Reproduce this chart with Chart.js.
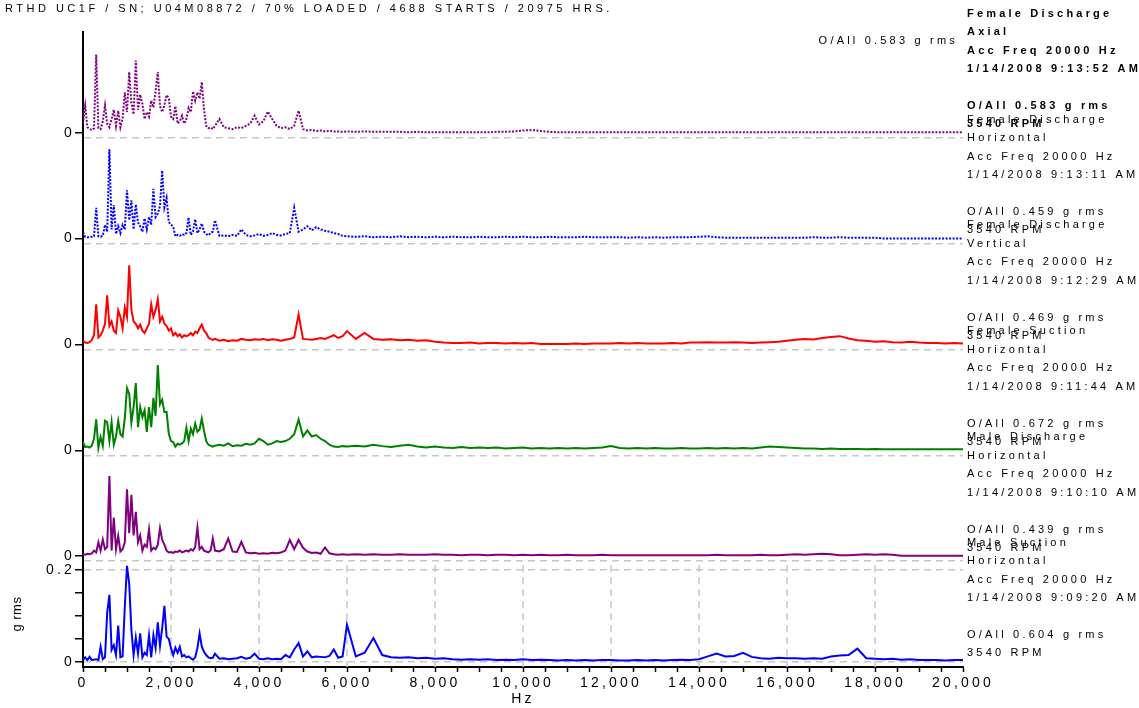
<!DOCTYPE html>
<html>
<head>
<meta charset="utf-8">
<title>RTHD UC1F spectra</title>
<script src="https://cdn.jsdelivr.net/npm/chart.js@4.4.1/dist/chart.umd.min.js"></script>
<style>
  html, body { margin: 0; padding: 0; background: #fff; }
</style>
</head>
<body>
<canvas id="spectra" width="1139" height="708"></canvas>
<script>
// frequency lines (Hz)
var freqHz = [
  0, 50, 100, 150, 200, 250, 300, 350, 400, 450, 500, 550, 600, 650, 700, 750, 800, 850, 900, 950, 1000,
  1050, 1100, 1150, 1200, 1250, 1300, 1350, 1400, 1450, 1500, 1550, 1600, 1650, 1700, 1750, 1800, 1850, 1900, 1950, 2000,
  2050, 2100, 2150, 2200, 2250, 2300, 2350, 2400, 2450, 2500, 2550, 2600, 2650, 2700, 2750, 2800, 2850, 2900, 2950, 3000,
  3100, 3200, 3300, 3400, 3500, 3600, 3700, 3800, 3900, 4000,
  4100, 4200, 4300, 4400, 4500, 4600, 4700, 4800, 4900, 5000,
  5100, 5200, 5300, 5400, 5500, 5600, 5700, 5800, 5900, 6000,
  6200, 6400, 6600, 6800, 7000, 7200, 7400, 7600, 7800, 8000,
  8200, 8400, 8600, 8800, 9000, 9200, 9400, 9600, 9800, 10000,
  10200, 10400, 10600, 10800, 11000, 11200, 11400, 11600, 11800, 12000,
  12200, 12400, 12600, 12800, 13000, 13200, 13400, 13600, 13800, 14000,
  14200, 14400, 14600, 14800, 15000, 15200, 15400, 15600, 15800, 16000,
  16200, 16400, 16600, 16800, 17000, 17200, 17400, 17600, 17800, 18000,
  18200, 18400, 18600, 18800, 19000, 19200, 19400, 19600, 19800, 20000
];

// amplitudes, g rms
var femDischAxial = [
  0.020, 0.058, 0.012, 0.008, 0.006, 0.010, 0.170, 0.010, 0.008, 0.025, 0.059, 0.020, 0.012, 0.030, 0.050, 0.015, 0.048, 0.012, 0.030, 0.088, 0.045,
  0.132, 0.065, 0.040, 0.157, 0.050, 0.083, 0.063, 0.030, 0.045, 0.035, 0.070, 0.055, 0.090, 0.132, 0.058, 0.045, 0.060, 0.082, 0.075, 0.035,
  0.030, 0.058, 0.020, 0.025, 0.037, 0.020, 0.030, 0.054, 0.045, 0.090, 0.070, 0.088, 0.074, 0.110, 0.050, 0.015, 0.010, 0.012, 0.008, 0.015,
  0.030, 0.012, 0.010, 0.008, 0.012, 0.010, 0.015, 0.020, 0.037, 0.018,
  0.025, 0.046, 0.030, 0.015, 0.010, 0.012, 0.008, 0.015, 0.048, 0.008,
  0.005, 0.006, 0.004, 0.005, 0.003, 0.004, 0.003, 0.003, 0.002, 0.003,
  0.002, 0.003, 0.002, 0.002, 0.002, 0.002, 0.001, 0.002, 0.001, 0.001,
  0.001, 0.001, 0.001, 0.001, 0.001, 0.001, 0.002, 0.002, 0.003, 0.005,
  0.006, 0.004, 0.002, 0.001, 0.001, 0.001, 0.001, 0.001, 0.001, 0.001,
  0.001, 0.001, 0.001, 0.001, 0.001, 0.001, 0.001, 0.001, 0.001, 0.001,
  0.001, 0.001, 0.001, 0.001, 0.001, 0.001, 0.001, 0.001, 0.001, 0.001,
  0.001, 0.001, 0.001, 0.001, 0.001, 0.001, 0.001, 0.001, 0.001, 0.001,
  0.001, 0.001, 0.001, 0.001, 0.001, 0.001, 0.001, 0.001, 0.001, 0.001
];
var femDischHoriz = [
  0.014, 0.004, 0.003, 0.003, 0.004, 0.005, 0.067, 0.005, 0.004, 0.006, 0.030, 0.015, 0.194, 0.020, 0.073, 0.010, 0.027, 0.012, 0.030, 0.020, 0.105,
  0.040, 0.083, 0.020, 0.074, 0.035, 0.027, 0.015, 0.044, 0.020, 0.047, 0.030, 0.108, 0.047, 0.054, 0.071, 0.148, 0.068, 0.088, 0.036, 0.030,
  0.026, 0.005, 0.008, 0.006, 0.010, 0.008, 0.012, 0.046, 0.008, 0.015, 0.042, 0.012, 0.020, 0.033, 0.015, 0.010, 0.007, 0.012, 0.015, 0.040,
  0.006, 0.007, 0.005, 0.008, 0.006, 0.020, 0.008, 0.005, 0.007, 0.010,
  0.006, 0.008, 0.012, 0.008, 0.007, 0.010, 0.012, 0.067, 0.015, 0.020,
  0.027, 0.018, 0.025, 0.020, 0.017, 0.015, 0.012, 0.010, 0.006, 0.005,
  0.004, 0.005, 0.003, 0.004, 0.003, 0.005, 0.003, 0.004, 0.003, 0.004,
  0.003, 0.004, 0.003, 0.003, 0.004, 0.003, 0.003, 0.004, 0.003, 0.004,
  0.003, 0.003, 0.004, 0.003, 0.003, 0.003, 0.004, 0.003, 0.003, 0.003,
  0.003, 0.002, 0.003, 0.002, 0.003, 0.002, 0.003, 0.003, 0.003, 0.004,
  0.005, 0.003, 0.002, 0.002, 0.002, 0.002, 0.002, 0.002, 0.002, 0.002,
  0.002, 0.002, 0.003, 0.002, 0.002, 0.003, 0.002, 0.002, 0.002, 0.002,
  0.000, 0.000, 0.000, 0.000, 0.000, 0.000, 0.000, 0.000, 0.000, 0.000
];
var femDischVert = [
  0.008, 0.004, 0.003, 0.005, 0.010, 0.020, 0.087, 0.015, 0.020, 0.030, 0.045, 0.107, 0.040, 0.050, 0.030, 0.025, 0.074, 0.060, 0.035, 0.080, 0.060,
  0.172, 0.075, 0.050, 0.045, 0.035, 0.043, 0.030, 0.025, 0.035, 0.045, 0.087, 0.060, 0.075, 0.098, 0.050, 0.060, 0.045, 0.040, 0.030, 0.035,
  0.020, 0.025, 0.018, 0.022, 0.015, 0.020, 0.018, 0.020, 0.025, 0.020, 0.028, 0.025, 0.035, 0.043, 0.030, 0.025, 0.015, 0.012, 0.010, 0.012,
  0.008, 0.010, 0.007, 0.009, 0.008, 0.012, 0.010, 0.009, 0.011, 0.010,
  0.012, 0.009, 0.011, 0.010, 0.008, 0.010, 0.012, 0.015, 0.065, 0.012,
  0.011, 0.010, 0.012, 0.014, 0.012, 0.016, 0.020, 0.014, 0.018, 0.029,
  0.012, 0.025, 0.012, 0.010, 0.011, 0.009, 0.010, 0.008, 0.009, 0.006,
  0.004, 0.003, 0.003, 0.004, 0.002, 0.003, 0.003, 0.002, 0.003, 0.002,
  0.003, 0.001, 0.001, 0.001, 0.001, 0.002, 0.001, 0.002, 0.002, 0.002,
  0.003, 0.002, 0.003, 0.002, 0.002, 0.002, 0.003, 0.002, 0.004, 0.004,
  0.005, 0.004, 0.004, 0.005, 0.004, 0.003, 0.004, 0.005, 0.006, 0.008,
  0.010, 0.012, 0.011, 0.014, 0.016, 0.018, 0.013, 0.009, 0.008, 0.006,
  0.007, 0.005, 0.004, 0.006, 0.004, 0.003, 0.003, 0.002, 0.003, 0.002
];
var femSuctHoriz = [
  0.018, 0.007, 0.008, 0.006, 0.010, 0.025, 0.067, 0.005, 0.029, 0.010, 0.064, 0.061, 0.020, 0.061, 0.012, 0.030, 0.064, 0.035, 0.030, 0.070, 0.135,
  0.123, 0.060, 0.094, 0.146, 0.050, 0.094, 0.072, 0.087, 0.040, 0.094, 0.050, 0.114, 0.075, 0.185, 0.100, 0.110, 0.083, 0.083, 0.036, 0.020,
  0.018, 0.008, 0.014, 0.012, 0.015, 0.020, 0.049, 0.020, 0.047, 0.035, 0.058, 0.040, 0.045, 0.069, 0.043, 0.020, 0.012, 0.010, 0.008, 0.010,
  0.012, 0.010, 0.015, 0.009, 0.011, 0.010, 0.014, 0.012, 0.015, 0.025,
  0.020, 0.012, 0.015, 0.020, 0.018, 0.020, 0.025, 0.035, 0.067, 0.030,
  0.043, 0.030, 0.033, 0.025, 0.020, 0.012, 0.008, 0.007, 0.009, 0.008,
  0.010, 0.008, 0.012, 0.009, 0.007, 0.010, 0.012, 0.008, 0.006, 0.008,
  0.006, 0.005, 0.007, 0.005, 0.006, 0.005, 0.006, 0.004, 0.005, 0.006,
  0.004, 0.005, 0.004, 0.005, 0.004, 0.005, 0.004, 0.005, 0.006, 0.009,
  0.005, 0.004, 0.005, 0.004, 0.005, 0.004, 0.004, 0.005, 0.004, 0.004,
  0.005, 0.004, 0.005, 0.004, 0.005, 0.004, 0.006, 0.008, 0.007, 0.006,
  0.005, 0.004, 0.004, 0.003, 0.004, 0.003, 0.003, 0.003, 0.002, 0.003,
  0.002, 0.002, 0.002, 0.002, 0.002, 0.002, 0.002, 0.002, 0.002, 0.002
];
var maleDischHoriz = [
  0.004, 0.003, 0.005, 0.004, 0.006, 0.012, 0.008, 0.030, 0.012, 0.036, 0.015, 0.020, 0.174, 0.012, 0.084, 0.015, 0.044, 0.010, 0.015, 0.030, 0.145,
  0.050, 0.133, 0.045, 0.096, 0.030, 0.045, 0.012, 0.025, 0.020, 0.058, 0.012, 0.018, 0.015, 0.025, 0.061, 0.035, 0.025, 0.012, 0.008, 0.009,
  0.007, 0.010, 0.009, 0.012, 0.008, 0.010, 0.012, 0.010, 0.015, 0.012, 0.020, 0.062, 0.015, 0.020, 0.012, 0.010, 0.008, 0.012, 0.038, 0.012,
  0.010, 0.015, 0.038, 0.010, 0.009, 0.031, 0.008, 0.006, 0.007, 0.005,
  0.006, 0.005, 0.007, 0.006, 0.008, 0.012, 0.035, 0.015, 0.035, 0.018,
  0.010, 0.007, 0.008, 0.005, 0.019, 0.006, 0.004, 0.003, 0.004, 0.003,
  0.004, 0.003, 0.004, 0.003, 0.003, 0.004, 0.003, 0.003, 0.003, 0.004,
  0.003, 0.003, 0.002, 0.003, 0.003, 0.002, 0.003, 0.003, 0.002, 0.003,
  0.002, 0.003, 0.002, 0.002, 0.003, 0.002, 0.002, 0.002, 0.003, 0.002,
  0.002, 0.002, 0.002, 0.002, 0.002, 0.002, 0.002, 0.002, 0.002, 0.002,
  0.002, 0.003, 0.002, 0.002, 0.002, 0.002, 0.003, 0.002, 0.002, 0.003,
  0.004, 0.003, 0.004, 0.005, 0.004, 0.002, 0.002, 0.003, 0.004, 0.003,
  0.004, 0.003, 0.001, 0.001, 0.001, 0.001, 0.001, 0.001, 0.001, 0.001
];
var maleSuctHoriz = [
  0.004, 0.010, 0.004, 0.011, 0.004, 0.005, 0.006, 0.004, 0.033, 0.006, 0.010, 0.107, 0.146, 0.026, 0.036, 0.015, 0.079, 0.010, 0.012, 0.120, 0.209,
  0.170, 0.069, 0.015, 0.053, 0.018, 0.062, 0.010, 0.020, 0.015, 0.058, 0.010, 0.058, 0.030, 0.086, 0.035, 0.074, 0.122, 0.055, 0.050, 0.030,
  0.015, 0.031, 0.020, 0.033, 0.012, 0.015, 0.010, 0.012, 0.008, 0.005, 0.010, 0.030, 0.062, 0.033, 0.022, 0.015, 0.010, 0.008, 0.009, 0.018,
  0.007, 0.008, 0.006, 0.007, 0.008, 0.011, 0.007, 0.009, 0.018, 0.007,
  0.006, 0.008, 0.006, 0.007, 0.006, 0.015, 0.010, 0.027, 0.041, 0.012,
  0.023, 0.010, 0.012, 0.011, 0.010, 0.013, 0.027, 0.009, 0.012, 0.081,
  0.012, 0.020, 0.052, 0.015, 0.010, 0.009, 0.010, 0.008, 0.009, 0.007,
  0.008, 0.006, 0.005, 0.006, 0.005, 0.006, 0.004, 0.005, 0.004, 0.006,
  0.004, 0.005, 0.004, 0.003, 0.004, 0.003, 0.004, 0.003, 0.004, 0.004,
  0.003, 0.003, 0.004, 0.003, 0.004, 0.003, 0.004, 0.005, 0.004, 0.006,
  0.012, 0.018, 0.012, 0.013, 0.020, 0.011, 0.008, 0.007, 0.009, 0.008,
  0.008, 0.007, 0.008, 0.007, 0.012, 0.014, 0.015, 0.029, 0.008, 0.007,
  0.006, 0.007, 0.005, 0.006, 0.004, 0.004, 0.004, 0.003, 0.004, 0.004
];

// header text for each trace, top to bottom
var panelNames = ['Female Discharge', 'Female Discharge', 'Female Discharge', 'Female Suction', 'Male Discharge', 'Male Suction'];
var panelDirections = ['Axial', 'Horizontal', 'Vertical', 'Horizontal', 'Horizontal', 'Horizontal'];
var panelTimes = ['1/14/2008 9:13:52 AM', '1/14/2008 9:13:11 AM', '1/14/2008 9:12:29 AM',
                  '1/14/2008 9:11:44 AM', '1/14/2008 9:10:10 AM', '1/14/2008 9:09:20 AM'];
var panelOverall = ['0.583', '0.459', '0.469', '0.672', '0.439', '0.604'];
var panelRpm = ['3540', '3540', '3540', '3540', '3540', '3540'];
var accFreqHz = '20000';

var reportTitle = 'RTHD UC1F / SN; U04M08872 / 70% LOADED / 4688 STARTS / 20975 HRS.';

// axis ticks
var yLow = -0.011;
var yHigh = 0.219;
var panelTicks = [yLow, 0];
var panelLabels = [0];
var bottomTicks = [0, 0.05, 0.1, 0.15, 0.2];
var bottomLabels = [0, 0.2];
var freqStep = 500;
var freqLabelStep = 2000;

var textFont = '"Liberation Sans", Arial, Helvetica, sans-serif';
var gridGray = '#c8c8c8';
var clear = 'rgba(0,0,0,0)';

var series = [femDischAxial, femDischHoriz, femDischVert, femSuctHoriz, maleDischHoriz, maleSuctHoriz];
var colors = ['#800080', '#0000ff', '#ff0000', '#008000', '#800080', '#0000ff'];
var dashes = [[2, 1.5], [2, 1.5], [], [], [], []];
var axisIds = ['yP1', 'yP2', 'yP3', 'yP4', 'yP5', 'yP6'];

function makeY(tickValues, labelled, gridded) {
  return {
    type: 'linear',
    position: 'left',
    stack: 'spectra',
    stackWeight: 1,
    min: yLow,
    max: yHigh,
    afterBuildTicks: function (s) {
      s.ticks = tickValues.map(function (v) { return { value: v }; });
    },
    afterFit: function (s) { s.width = 74; },
    border: { color: '#000', width: 2, dash: [7, 5] },
    grid: {
      lineWidth: 1.5,
      tickLength: 8,
      tickWidth: 1.5,
      tickBorderDash: [],
      color: function (c) {
        return c.tick && gridded.indexOf(c.tick.value) >= 0 ? gridGray : clear;
      },
      tickColor: function (c) {
        return c.tick && c.tick.value >= 0 ? '#000' : clear;
      }
    },
    ticks: {
      autoSkip: false,
      padding: 0,
      color: '#000',
      font: { size: 14 },
      callback: function (v) { return labelled.indexOf(v) >= 0 ? String(v) : ''; }
    }
  };
}

var scales = {
  x: {
    type: 'linear',
    min: 0,
    max: 20000,
    afterFit: function (s) { s.height = 41; },
    border: { color: '#000', width: 2 },
    grid: { drawOnChartArea: false, tickLength: 5, tickWidth: 1.5, tickColor: '#000' },
    ticks: {
      stepSize: freqStep,
      autoSkip: false,
      maxRotation: 0,
      padding: 3,
      color: '#000',
      font: { size: 14 },
      callback: function (v) { return v % freqLabelStep === 0 ? v.toLocaleString('en-US') : ''; }
    },
    title: { display: true, text: 'Hz', color: '#000', font: { size: 14 }, padding: 0 }
  }
};
// bottom trace first so that the stack is laid out top to bottom as listed in axisIds
scales.yP6 = makeY(bottomTicks, bottomLabels, bottomLabels);
for (var k = 4; k >= 0; k--) {
  scales[axisIds[k]] = makeY(panelTicks, panelLabels, [yLow]);
}

var datasets = series.map(function (vals, i) {
  return {
    label: panelNames[i] + ' ' + panelDirections[i],
    data: freqHz.map(function (f, j) { return { x: f, y: vals[j] }; }),
    yAxisID: axisIds[i],
    borderColor: colors[i],
    borderWidth: 2,
    borderDash: dashes[i],
    pointRadius: 0,
    tension: 0
  };
});

// letter spacing, dashed grid in the bottom trace and the text blocks on the right
var spectrumText = {
  id: 'spectrumText',
  beforeDraw: function (chart) {
    chart.ctx.letterSpacing = '3.2px';
  },
  beforeDatasetsDraw: function (chart) {
    var ctx = chart.ctx, xs = chart.scales.x, ys = chart.scales.yP6;
    ctx.save();
    ctx.strokeStyle = gridGray;
    ctx.lineWidth = 1.5;
    ctx.setLineDash([7, 5]);
    xs.ticks.forEach(function (t) {
      if (t.value % freqLabelStep !== 0 || t.value <= xs.min || t.value >= xs.max) return;
      var px = Math.round(xs.getPixelForValue(t.value));
      ctx.beginPath();
      ctx.moveTo(px, ys.top + 4);
      ctx.lineTo(px, ys.bottom);
      ctx.stroke();
    });
    ctx.restore();
  },
  afterDraw: function (chart) {
    var ctx = chart.ctx, area = chart.chartArea;
    ctx.save();
    ctx.fillStyle = '#000';
    ctx.textBaseline = 'middle';

    ctx.font = '11px ' + textFont;
    ctx.letterSpacing = '3.5px';
    ctx.textAlign = 'left';
    ctx.fillText(reportTitle, 5, 9);

    ctx.letterSpacing = '3.2px';
    ctx.textAlign = 'right';
    ctx.fillText('O/All ' + panelOverall[0] + ' g rms', area.right - 5, area.top + 9);

    ctx.textAlign = 'left';
    var offs = [-119, -100.5, -82, -63.5, -26.5, -8.5];
    axisIds.forEach(function (id, i) {
      var y0 = chart.scales[id].getPixelForValue(0);
      var lines = [panelNames[i], panelDirections[i], 'Acc Freq ' + accFreqHz + ' Hz', panelTimes[i],
                   'O/All ' + panelOverall[i] + ' g rms', panelRpm[i] + ' RPM'];
      ctx.font = (i === 0 ? 'bold ' : '') + '11px ' + textFont;
      lines.forEach(function (s, j) {
        ctx.fillText(s, area.right + 4, y0 + offs[j]);
      });
    });

    var ys = chart.scales.yP6;
    ctx.translate(17, (ys.top + ys.bottom) / 2);
    ctx.rotate(-Math.PI / 2);
    ctx.textAlign = 'center';
    ctx.letterSpacing = '0.5px';
    ctx.font = '13px ' + textFont;
    ctx.fillText('g rms', 0, 0);
    ctx.restore();
  }
};

Chart.defaults.font.family = textFont;
Chart.defaults.color = '#000';

new Chart(document.getElementById('spectra').getContext('2d'), {
  type: 'line',
  data: { datasets: datasets },
  options: {
    responsive: false,
    animation: false,
    layout: { padding: { left: 9, right: 176, top: 32, bottom: 0 } },
    plugins: { legend: { display: false }, tooltip: { enabled: false } },
    scales: scales
  },
  plugins: [spectrumText]
});
</script>
</body>
</html>
